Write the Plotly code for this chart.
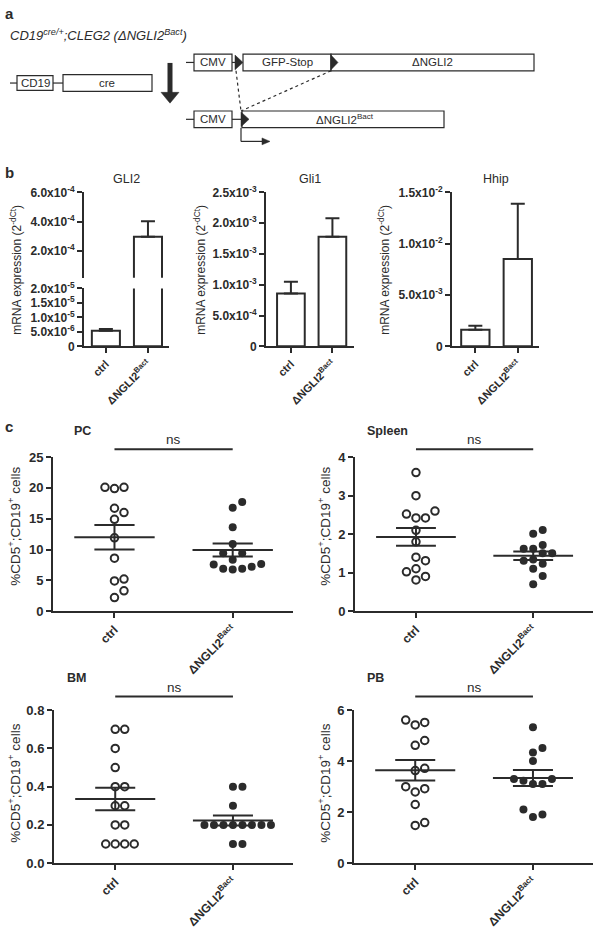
import numpy as np
import plotly.graph_objects as go

W, H = 593, 929
INK = "#2b2b2b"
FONT = "Liberation Sans, Arial, sans-serif"

# ---------------- data ----------------
categories = ["ctrl", "ΔNGLI2<sup>Bact</sup>"]

# panel b: mean and SEM of mRNA expression (2^-dCt)
gli2_mean = [5.4e-6, 2.98e-4]
gli2_sem = [0.55e-6, 1.06e-4]
gli1_mean = [0.86e-3, 1.78e-3]
gli1_sem = [0.19e-3, 0.30e-3]
hhip_mean = [1.62e-3, 8.5e-3]
hhip_sem = [0.38e-3, 5.4e-3]

gli2_upper_ticks = [2e-4, 4e-4, 6e-4]
gli2_upper_labels = ["2.0x10<sup>-4</sup>", "4.0x10<sup>-4</sup>", "6.0x10<sup>-4</sup>"]
gli2_lower_ticks = [0, 5e-6, 1e-5, 1.5e-5, 2e-5]
gli2_lower_labels = ["0", "5.0x10<sup>-6</sup>", "1.0x10<sup>-5</sup>",
                     "1.5x10<sup>-5</sup>", "2.0x10<sup>-5</sup>"]
gli1_ticks = [0, 5e-4, 1e-3, 1.5e-3, 2e-3, 2.5e-3]
gli1_labels = ["0", "5.0x10<sup>-4</sup>", "1.0x10<sup>-3</sup>", "1.5x10<sup>-3</sup>",
               "2.0x10<sup>-3</sup>", "2.5x10<sup>-3</sup>"]
hhip_ticks = [0, 5e-3, 1e-2, 1.5e-2]
hhip_labels = ["0", "5.0x10<sup>-3</sup>", "1.0x10<sup>-2</sup>", "1.5x10<sup>-2</sup>"]

# panel c: % CD5+;CD19+ cells per animal
pc_ctrl = [20.1, 19.9, 20.1, 16.7, 16.0, 14.9, 11.9, 8.6, 5.2, 4.9, 3.3, 2.2]
pc_dngli2 = [17.7, 16.8, 13.6, 10.9, 9.4, 9.4, 8.35, 7.56, 6.87, 6.77, 6.87, 7.19, 7.66]
spleen_ctrl = [3.6, 3.0, 2.6, 2.42, 2.42, 2.52, 2.1, 1.8, 1.31, 1.4, 1.02, 1.1, 0.81, 0.9]
spleen_dngli2 = [2.01, 2.11, 1.62, 1.5, 1.72, 1.5, 1.62, 1.23, 1.31, 1.34, 1.1, 0.91, 0.7]
bm_ctrl = [0.7, 0.7, 0.6, 0.5, 0.4, 0.4, 0.3, 0.3, 0.2, 0.2, 0.1, 0.1, 0.1, 0.1]
bm_dngli2 = [0.4, 0.4, 0.3, 0.2, 0.2, 0.2, 0.2, 0.2, 0.2, 0.2, 0.2, 0.1, 0.1]
pb_ctrl = [5.52, 5.42, 5.61, 4.62, 4.81, 3.72, 3.63, 3.0, 2.79, 2.92, 2.3, 1.48, 1.59]
pb_dngli2 = [5.33, 4.52, 4.34, 4.01, 3.3, 3.1, 3.1, 3.23, 3.3, 2.1, 1.81, 1.91]

pc_ticks = [0, 5, 10, 15, 20, 25]
spleen_ticks = [0, 1, 2, 3, 4]
bm_ticks = [0.0, 0.2, 0.4, 0.6, 0.8]
bm_labels = ["0.0", "0.2", "0.4", "0.6", "0.8"]
pb_ticks = [0, 2, 4, 6]


# ---------------- helpers ----------------
def px(x):
    return x / W


def py(y):
    return 1 - y / H


fig = go.Figure()
shapes = []
annos = []


def ref(n, letter):
    return letter if n == 1 else f"{letter}{n}"


def key(n, letter):
    return f"{letter}axis" if n == 1 else f"{letter}axis{n}"


def set_axes(n, xdom, ydom, xrange, yrange, yticks, ytext, show_x=True,
             xfont=11, yfont=12):
    fig.layout[key(n, "x")] = dict(
        domain=[px(xdom[0]), px(xdom[1])], range=xrange, anchor=ref(n, "y"),
        showgrid=False, zeroline=False, showline=show_x, linecolor=INK, linewidth=2,
        ticks="outside" if show_x else "", ticklen=5, tickwidth=2, tickcolor=INK,
        tickmode="array", tickvals=[0, 1] if show_x else [], ticktext=categories,
        showticklabels=show_x, tickangle=-45,
        tickfont=dict(family=FONT, size=xfont, color=INK, weight="bold"),
        fixedrange=True)
    fig.layout[key(n, "y")] = dict(
        domain=[py(ydom[1]), py(ydom[0])], range=yrange, anchor=ref(n, "x"),
        showgrid=False, zeroline=False, showline=True, linecolor=INK, linewidth=2,
        ticks="outside", ticklen=5, tickwidth=2, tickcolor=INK,
        tickmode="array", tickvals=yticks, ticktext=ytext,
        tickfont=dict(family=FONT, size=yfont, color=INK, weight="bold"),
        fixedrange=True)


def text(x, y, s, size=11.5, xanchor="center", bold=False, italic=False, angle=0,
         xref="paper"):
    if bold:
        s = f"<b>{s}</b>"
    if italic:
        s = f"<i>{s}</i>"
    annos.append(dict(x=px(x) if xref == "paper" else x, y=py(y), xref=xref, yref="paper",
                      text=s, showarrow=False, xanchor=xanchor, yanchor="middle",
                      textangle=angle, font=dict(family=FONT, size=size, color=INK)))


def line(x0, y0, x1, y1, width=1.2, dash=None):
    d = dict(type="line", xref="paper", yref="paper", x0=px(x0), y0=py(y0),
             x1=px(x1), y1=py(y1), line=dict(color=INK, width=width))
    if dash:
        d["line"]["dash"] = dash
    shapes.append(d)


def rect(x0, y0, x1, y1):
    shapes.append(dict(type="rect", xref="paper", yref="paper", x0=px(x0), x1=px(x1),
                       y0=py(y1), y1=py(y0), line=dict(color=INK, width=1.2),
                       fillcolor="white"))


def poly(pts):
    path = "M " + " L ".join(f"{px(a):.5f},{py(b):.5f}" for a, b in pts) + " Z"
    shapes.append(dict(type="path", xref="paper", yref="paper", path=path,
                       fillcolor=INK, line=dict(color=INK, width=0.5)))


# ---------------- panel a (schematic) ----------------
text(3, 5, "a", size=15, xanchor="left", bold=True)
text(8, 27, "CD19<sup>cre/+</sup>;CLEG2 (ΔNGLI2<sup>Bact</sup>)", size=13,
     xanchor="left", italic=True)
# top construct
line(186, 54.5, 194, 54.5)
rect(194, 46, 232, 63)
text(213, 54.5, "CMV")
line(232, 54.5, 235, 54.5)
poly([(235, 47), (235, 62), (243, 54.5)])
rect(243, 46, 331, 63)
text(287, 54.5, "GFP-Stop")
rect(331, 46, 534, 63)
poly([(331, 47), (331, 62), (338, 54.5)])
text(432, 54.5, "ΔNGLI2")
# CD19-cre
line(10, 75.5, 17, 75.5)
rect(17, 68, 53, 83)
text(35, 75.5, "CD19")
line(53, 75.5, 63, 75.5)
rect(63, 67, 152, 84)
text(107, 75.5, "cre")
# big arrow
line(170, 55, 170, 87, width=5)
poly([(161, 85), (179, 85), (170, 96)])
# recombined construct
line(186, 112.5, 194, 112.5)
rect(194, 104, 232, 121)
text(213, 112.5, "CMV")
line(232, 112.5, 242, 112.5)
rect(242, 104, 444, 121)
poly([(241, 105), (241, 120), (249, 112.5)])
text(345, 112.5, "ΔNGLI2<sup>Bact</sup>")
line(236, 63, 241, 104, dash="dot")
line(331, 63, 241, 104, dash="dot")
line(241, 121, 241, 135)
line(241, 135, 263, 135)
poly([(262, 131.5), (262, 138.5), (270, 135)])

# ---------------- panel b (bars) ----------------
text(3, 167, "b", size=15, xanchor="left", bold=True)


def add_bars(n, mean, sem):
    fig.add_trace(go.Bar(
        x=[0, 1], y=mean, width=0.667, xaxis=ref(n, "x"), yaxis=ref(n, "y"),
        marker=dict(color="white", line=dict(color=INK, width=2)),
        error_y=dict(type="data", array=sem, arrayminus=[0, 0], symmetric=False,
                     color=INK, thickness=2, width=7),
        showlegend=False, hoverinfo="skip"))


# GLI2 with broken axis (upper n=1, lower n=2)
set_axes(1, (84, 169), (187, 274), [-0.52, 1.5], [2e-5, 6e-4],
         gli2_upper_ticks, gli2_upper_labels, show_x=False)
set_axes(2, (84, 169), (285, 344), [-0.52, 1.5], [0, 2e-5],
         gli2_lower_ticks, gli2_lower_labels)
add_bars(1, gli2_mean, gli2_sem)
add_bars(2, gli2_mean, gli2_sem)
# Gli1
set_axes(3, (266, 354), (187, 344), [-0.6, 1.52], [0, 2.5e-3], gli1_ticks, gli1_labels)
add_bars(3, gli1_mean, gli1_sem)
# Hhip
set_axes(4, (452, 539), (187, 344), [-0.55, 1.5], [0, 1.5e-2], hhip_ticks, hhip_labels)
add_bars(4, hhip_mean, hhip_sem)

for xc, t in [(126.5, "GLI2"), (310, "Gli1"), (495.5, "Hhip")]:
    text(xc, 173, t, size=12.5)
for xc in [16, 200, 384]:
    text(xc, 266, "mRNA expression (2<sup>-dCt</sup>)", size=12, angle=-90)

# ---------------- panel c (scatter dot plots) ----------------
text(3, 426, "c", size=15, xanchor="left", bold=True)

XR = [-0.52, 1.51]


def swarm(values, ppu_x, ppu_y, step_px=9.5, min_dist=8.5):
    vals = np.asarray(values, dtype=float)
    order = np.argsort(vals, kind="stable")
    cands = [0]
    for j in range(1, 12):
        cands += [j, -j]
    placed = []
    offs = np.zeros(len(vals))
    for i in order:
        yp = vals[i] * ppu_y
        for c in cands:
            xp = c * step_px
            if all((xp - a) ** 2 + (yp - b) ** 2 >= min_dist ** 2 for a, b in placed):
                break
        placed.append((xp, yp))
        offs[i] = xp / ppu_x
    return offs


def add_dotplot(n, xdom, ydom, ymax, yticks, ytext, ctrl, mut, title, title_x, top):
    set_axes(n, xdom, ydom, XR, [0, ymax], yticks, ytext, xfont=12, yfont=13)
    ppu_x = (xdom[1] - xdom[0]) / (XR[1] - XR[0])
    ppu_y = (ydom[1] - ydom[0]) / ymax
    for xc, vals, filled in [(0, ctrl, False), (1, mut, True)]:
        vals = np.asarray(vals, dtype=float)
        offs = swarm(vals, ppu_x, ppu_y)
        if filled:
            mk = dict(symbol="circle", size=8, color=INK, line=dict(width=0))
        else:
            mk = dict(symbol="circle-open", size=7.5, color=INK, line=dict(width=2))
        fig.add_trace(go.Scatter(x=xc + offs, y=vals, mode="markers", marker=mk,
                                 xaxis=ref(n, "x"), yaxis=ref(n, "y"),
                                 showlegend=False, hoverinfo="skip"))
        m = vals.mean()
        s = vals.std(ddof=1) / np.sqrt(len(vals))
        xs = [xc - 0.34, xc + 0.34, None, xc - 0.17, xc + 0.17, None,
              xc - 0.17, xc + 0.17, None, xc, xc]
        ys = [m, m, None, m + s, m + s, None, m - s, m - s, None, m - s, m + s]
        fig.add_trace(go.Scatter(x=xs, y=ys, mode="lines", line=dict(color=INK, width=2),
                                 xaxis=ref(n, "x"), yaxis=ref(n, "y"),
                                 showlegend=False, hoverinfo="skip"))
    # significance bar
    shapes.append(dict(type="line", xref=ref(n, "x"), yref="paper", x0=0, x1=1,
                       y0=py(top), y1=py(top), line=dict(color=INK, width=2)))
    text(0.5, top - 9.5, "ns", size=13.5, xref=ref(n, "x"))
    text(title_x, top - 19, title, size=12.5, bold=True)


add_dotplot(5, (53, 293), (457, 614), 25, pc_ticks, [str(v) for v in pc_ticks],
            pc_ctrl, pc_dngli2, "PC", 82, 449)
add_dotplot(6, (355, 593), (457, 614), 4, spleen_ticks, [str(v) for v in spleen_ticks],
            spleen_ctrl, spleen_dngli2, "Spleen", 387, 449)
add_dotplot(7, (54, 293), (715, 871), 0.8, bm_ticks, bm_labels,
            bm_ctrl, bm_dngli2, "BM", 76, 701)
add_dotplot(8, (354, 593), (715, 871), 6, pb_ticks, [str(v) for v in pb_ticks],
            pb_ctrl, pb_dngli2, "PB", 375, 701)

ylab_c = "%CD5<sup>+</sup>;CD19<sup>+</sup> cells"
text(14, 528, ylab_c, size=13.5, angle=-90)
text(324, 528, ylab_c, size=13.5, angle=-90)
text(14, 790, ylab_c, size=13.5, angle=-90)
text(324, 790, ylab_c, size=13.5, angle=-90)

fig.update_layout(
    width=W, height=H, margin=dict(l=0, r=0, t=0, b=0),
    paper_bgcolor="white", plot_bgcolor="white",
    font=dict(family=FONT, color=INK), showlegend=False,
    shapes=shapes, annotations=annos, bargap=0,
)
# remove the browser's default 8px body margin so the figure fills the window
fig.write_html("out.html",
               config={"displayModeBar": False, "staticPlot": True},
               post_script="document.body.style.margin='0';"
                           "document.body.style.overflow='hidden';")
